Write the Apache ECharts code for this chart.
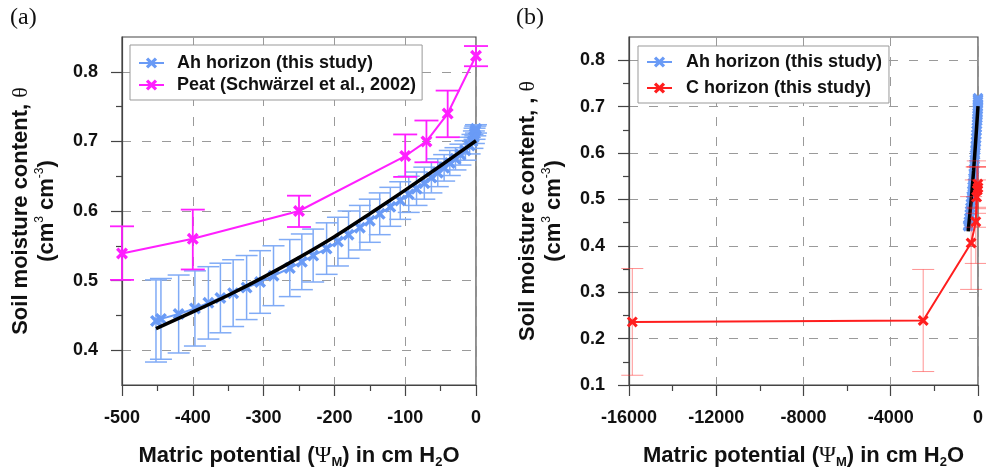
<!DOCTYPE html>
<html>
<head>
<meta charset="utf-8">
<script src="https://cdn.jsdelivr.net/npm/echarts@6/dist/echarts.min.js"></script>
<style>html,body{margin:0;padding:0;background:#fff}#c{width:986px;height:474px}</style>
</head>
<body>
<div id="c"></div>
<script>
// ---------- data ----------
// Panel (a): Ah horizon (this study), mean retention points with vertical error (±)
const ahX   = [-452,-445,-420,-397,-378,-361,-343,-324,-305,-286,-263,-246,-230,-211,-195,-180,-164,-150,-136,-121,-107,-95,-84,-73,-63,-54,-45,-37,-29,-22,-15,-9,-5,-3,-2,-1,0];
const ahY   = [0.442,0.445,0.452,0.460,0.468,0.475,0.482,0.490,0.498,0.507,0.518,0.527,0.536,0.546,0.556,0.566,0.576,0.586,0.596,0.606,0.615,0.624,0.632,0.640,0.648,0.655,0.662,0.669,0.675,0.681,0.687,0.694,0.700,0.706,0.711,0.715,0.718];
const ahErr = [0.059,0.058,0.056,0.054,0.052,0.050,0.048,0.046,0.045,0.043,0.041,0.040,0.038,0.037,0.035,0.034,0.032,0.031,0.030,0.028,0.027,0.026,0.024,0.023,0.022,0.020,0.019,0.018,0.016,0.015,0.014,0.012,0.010,0.009,0.008,0.007,0.006];
// fitted curve (black)
const fitX = [-452,-400,-350,-300,-250,-200,-150,-100,-50,0];
const fitY = [0.431,0.455,0.479,0.505,0.533,0.563,0.596,0.630,0.665,0.701];
// Peat (Schwärzel et al., 2002)
const peatX  = [-500,-400,-250,-100,-70,-40,0];
const peatY  = [0.539,0.560,0.600,0.679,0.700,0.740,0.823];
const peatLo = [0.501,0.516,0.577,0.649,0.670,0.706,0.808];
const peatHi = [0.578,0.602,0.622,0.710,0.730,0.773,0.837];
// Panel (b): C horizon (this study)
const cX   = [-15849,-2512,-316,-100,-63,-32,-10,0];
const cY   = [0.236,0.239,0.406,0.452,0.505,0.520,0.533,0.525];
const cErr = [0.115,0.110,0.100,0.090,0.065,0.050,0.050,0.045];
// tick values
const yTicksA  = [0.4,0.5,0.6,0.7,0.8];
const yMinorA  = [0.45,0.55,0.65,0.75];
const yTicksB  = [0.1,0.2,0.3,0.4,0.5,0.6,0.7,0.8];
const yMinorB  = [0.15,0.25,0.35,0.45,0.55,0.65,0.75];
const legendA = ['Ah horizon (this study)','Peat (Schwärzel et al., 2002)'];
const legendB = ['Ah horizon (this study)','C horizon (this study)'];

// ---------- styles ----------
const SANS = "'Liberation Sans', Arial, Helvetica, sans-serif";
const SERIF = "'Liberation Serif', 'Times New Roman', serif";
const BLUE = '#6a9bf6', BLUE_ERR = '#80abf6', MAG = '#ff1fff', RED = '#ff1e1e', RED_ERR = 'rgba(255,40,40,0.5)';
const XSYM = 'path://M0,2 L2,0 L5,3 L8,0 L10,2 L7,5 L10,8 L8,10 L5,7 L2,10 L0,8 L3,5 Z';
const pairs = (xs, ys) => xs.map((x, i) => [x, ys[i]]);

function errBar(capHalf, color, width) {
  return function (params, api) {
    const x = api.value(0), lo = api.value(1), hi = api.value(2);
    const a = api.coord([x, lo]), b = api.coord([x, hi]);
    const st = {stroke: color, lineWidth: width};
    return {type: 'group', children: [
      {type: 'line', shape: {x1: a[0], y1: a[1], x2: b[0], y2: b[1]}, style: st},
      {type: 'line', shape: {x1: a[0] - capHalf, y1: a[1], x2: a[0] + capHalf, y2: a[1]}, style: st},
      {type: 'line', shape: {x1: b[0] - capHalf, y1: b[1], x2: b[0] + capHalf, y2: b[1]}, style: st}
    ]};
  };
}

const grid = (left, width) => ({left: left, top: 37, width: width, height: 354, show: true,
  borderColor: '#444', borderWidth: 1.2, backgroundColor: 'transparent'});
const gridLineStyle = {color: '#9a9a9a', type: [9, 11], width: 1};
const lblStyle = {color: '#111', fontFamily: SANS, fontWeight: 'bold', fontSize: 18};

const xName = '{t|Matric potential (}{p|Ψ}{s|M}{t|) in cm H}{s|2}{t|O}';
const xNameStyle = {rich: {
  t: {fontFamily: SANS, fontWeight: 'bold', fontSize: 22, color: '#111', lineHeight: 26},
  p: {fontFamily: SERIF, fontSize: 23, color: '#111', lineHeight: 26},
  s: {fontFamily: SANS, fontWeight: 'bold', fontSize: 13, color: '#111', verticalAlign: 'bottom', lineHeight: 14}
}};
const yNameStyle = () => ({align: 'center', rich: {
  t: {fontFamily: SANS, fontWeight: 'bold', fontSize: 22, color: '#111', lineHeight: 26, align: 'center'},
  g: {fontFamily: SERIF, fontSize: 22, color: '#111', lineHeight: 26},
  s: {fontFamily: SANS, fontSize: 12, color: '#111', verticalAlign: 'top', lineHeight: 14}
}});

function xAxis(gi, min, max, interval) {
  return {type: 'value', gridIndex: gi, min: min, max: max, interval: interval,
    axisLine: {show: true, onZero: false, lineStyle: {color: '#444', width: 1.2}},
    axisTick: {show: true, length: 11, lineStyle: {color: '#444', width: 1.2}},
    minorTick: {show: true, splitNumber: 2, length: 6, lineStyle: {color: '#444', width: 1.2}},
    axisLabel: Object.assign({margin: 24, formatter: v => String(v)}, lblStyle),
    splitLine: {show: true, lineStyle: gridLineStyle},
    name: xName, nameLocation: 'middle', nameGap: 58, nameTextStyle: xNameStyle};
}
function yMain(gi, min, max, ticks, name) {
  return {type: 'value', gridIndex: gi, min: min, max: max, position: 'left',
    axisLine: {show: true, onZero: false, lineStyle: {color: '#444', width: 1.2}},
    axisTick: {show: true, length: 11, customValues: ticks, lineStyle: {color: '#444', width: 1.2}},
    axisLabel: Object.assign({margin: 24, customValues: ticks, formatter: v => v.toFixed(1)}, lblStyle),
    splitLine: {show: true, lineStyle: gridLineStyle},
    name: name, nameLocation: 'middle', nameGap: 62, nameTextStyle: yNameStyle()};
}
function yMinor(gi, min, max, ticks) {
  return {type: 'value', gridIndex: gi, min: min, max: max, position: 'left', offset: 0,
    axisLine: {show: false, onZero: false},
    axisTick: {show: true, length: 6, customValues: ticks, lineStyle: {color: '#444', width: 1.2}},
    axisLabel: {show: false}, splitLine: {show: false}};
}

const option = {
  animation: false,
  backgroundColor: '#fff',
  grid: [grid(122, 354), grid(629, 353)],
  xAxis: [xAxis(0, -500, 0, 100), xAxis(1, -16000, 0, 4000)],
  yAxis: [
    yMain(0, 0.35, 0.85, yTicksA, '{t|Soil moisture content, }{g|θ}\n{t|(cm}{s|3}{t| cm}{s|-3}{t|)}'),
    yMinor(0, 0.35, 0.85, yMinorA),
    yMain(1, 0.1, 0.85, yTicksB, '{t|Soil moisture content, , }{g|θ}\n{t|(cm}{s|3}{t| cm}{s|-3}{t|)}'),
    yMinor(1, 0.1, 0.85, yMinorB)
  ],
  legend: [
    {data: legendA, orient: 'vertical', left: 130, top: 45, padding: [9, 6, 6, 8], itemGap: 4,
     itemWidth: 25, itemHeight: 14, backgroundColor: '#fff', borderColor: '#999', borderWidth: 1,
     textStyle: {fontFamily: SANS, fontWeight: 'bold', fontSize: 18, color: '#111', lineHeight: 18, padding: [0, 0, 0, 8]},
     selectedMode: false},
    {data: legendB, orient: 'vertical', left: 638, top: 46, padding: [7, 7, 6, 8], itemGap: 8,
     itemWidth: 25, itemHeight: 14, backgroundColor: '#fff', borderColor: '#999', borderWidth: 1,
     textStyle: {fontFamily: SANS, fontWeight: 'bold', fontSize: 18, color: '#111', lineHeight: 18, padding: [0, 0, 0, 9]},
     selectedMode: false}
  ],
  graphic: [
    {type: 'text', left: 10, top: 6, style: {text: '(a)', font: "24px " + SERIF, fill: '#111'}},
    {type: 'text', left: 516, top: 6, style: {text: '(b)', font: "24px " + SERIF, fill: '#111'}}
  ],
  series: [
    // ----- panel (a)
    {type: 'custom', name: 'ah-err', xAxisIndex: 0, yAxisIndex: 0, silent: true, z: 2,
     renderItem: errBar(11, BLUE_ERR, 1.5), encode: {x: 0, y: [1, 2]},
     data: ahX.map((x, i) => [x, ahY[i] - ahErr[i], ahY[i] + ahErr[i]])},
    {type: 'line', name: legendA[0], xAxisIndex: 0, yAxisIndex: 0, data: pairs(ahX, ahY), clip: false, z: 3,
     symbol: XSYM, symbolSize: 12, showAllSymbol: true,
     lineStyle: {color: BLUE, width: 2}, itemStyle: {color: BLUE}},
    {type: 'line', name: 'fit-a', xAxisIndex: 0, yAxisIndex: 0, data: pairs(fitX, fitY), smooth: 0.3, clip: false, z: 4,
     symbol: 'none', lineStyle: {color: '#000', width: 3.5}},
    {type: 'custom', name: 'peat-err', xAxisIndex: 0, yAxisIndex: 0, silent: true, z: 5,
     renderItem: errBar(12, MAG, 1.8), encode: {x: 0, y: [1, 2]},
     data: peatX.map((x, i) => [x, peatLo[i], peatHi[i]])},
    {type: 'line', name: legendA[1], xAxisIndex: 0, yAxisIndex: 0, data: pairs(peatX, peatY), clip: false, z: 6,
     symbol: XSYM, symbolSize: 12, lineStyle: {color: MAG, width: 2}, itemStyle: {color: MAG}},
    // ----- panel (b)
    {type: 'line', name: legendB[0], xAxisIndex: 1, yAxisIndex: 2, data: pairs(ahX, ahY), clip: false, z: 3,
     symbol: XSYM, symbolSize: 11, showAllSymbol: true,
     lineStyle: {color: BLUE, width: 2}, itemStyle: {color: BLUE}},
    {type: 'line', name: 'fit-b', xAxisIndex: 1, yAxisIndex: 2, data: pairs(fitX, fitY), clip: false, z: 4,
     symbol: 'none', lineStyle: {color: '#000', width: 3.5}},
    {type: 'custom', name: 'c-err', xAxisIndex: 1, yAxisIndex: 2, silent: true, z: 5,
     renderItem: errBar(11, RED_ERR, 1), encode: {x: 0, y: [1, 2]},
     data: cX.map((x, i) => [x, cY[i] - cErr[i], cY[i] + cErr[i]])},
    {type: 'line', name: legendB[1], xAxisIndex: 1, yAxisIndex: 2, data: pairs(cX, cY), clip: false, z: 6,
     symbol: XSYM, symbolSize: 11, lineStyle: {color: RED, width: 2}, itemStyle: {color: RED}}
  ]
};
const chart = echarts.init(document.getElementById('c'), null, {renderer: 'canvas', width: 986, height: 474});
chart.setOption(option);
</script>
</body>
</html>
